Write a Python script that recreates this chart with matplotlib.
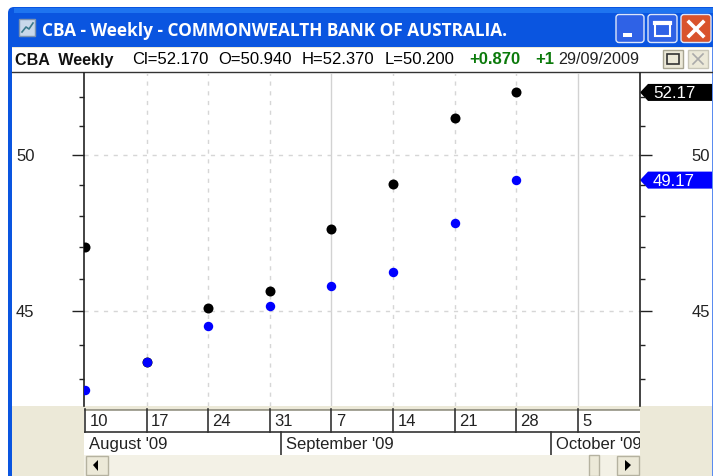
import matplotlib
matplotlib.use('Agg')
import matplotlib.pyplot as plt
from matplotlib.patches import Rectangle, FancyBboxPatch, Polygon
from matplotlib.ticker import FixedLocator, FixedFormatter, NullFormatter

# weekly points
weeks = ['10', '17', '24', '31', '7', '14', '21', '28', '5']
month_names = ["August '09", "September '09", "October '09"]
month_starts = [-0.02, 3.19, 7.57]
close_vals = [47.00, 43.49, 45.11, 45.62, 47.58, 49.05, 51.28, 52.17]
blue_vals = [42.67, 43.49, 44.56, 45.17, 45.78, 46.21, 47.77, 49.17]
major_ticks = [45, 50]
minor_ticks = [43, 44, 46, 47, 48, 49, 51, 52]
solid_weeks = [4, 8]
dashed_weeks = [1, 2, 3, 5, 6, 7]
info_parts = [(132, 'Cl=52.170'), (218, 'O=50.940'), (302, 'H=52.370'), (385, 'L=50.200')]

W, H = 713, 477
plt.rcParams['font.family'] = 'Liberation Sans'

fig = plt.figure(figsize=(W / 100, H / 100), dpi=100)


def box(x0, y0, x1, y1):
    # pixel box (top-left origin) to figure fractions
    return [x0 / W, 1 - y1 / H, (x1 - x0) / W, (y1 - y0) / H]


# window chrome, in pixels
bg = fig.add_axes([0, 0, 1, 1])
bg.set_xlim(0, W)
bg.set_ylim(H, 0)
bg.axis('off')
bg.add_patch(FancyBboxPatch((8, 8), 730, 500, boxstyle='round,pad=0,rounding_size=6', fc='#0A55E0', ec='none'))
bg.add_patch(Rectangle((14, 9), 699, 5, fc='#1E74F0', ec='none'))
bg.add_patch(Rectangle((12, 48), 701, 429, fc='#ECE9D8', ec='none'))
bg.add_patch(Rectangle((12, 49), 701, 24, fc='white', ec='none'))
bg.plot([12, 713], [72.5, 72.5], color='#333333', lw=1)
bg.add_patch(Rectangle((12, 73), 700, 334, fc='white', ec='none'))
bg.add_patch(Rectangle((712, 48), 1, 429, fc='#5A8CF0', ec='none'))

# title icon and title
bg.add_patch(Rectangle((19, 20), 16, 17, fc='#C9D8EA', ec='#7C93B0', lw=1))
bg.plot([22, 26, 29, 33], [33, 28, 30, 24], color='#3C7A8C', lw=1.2)
bg.text(42, 31, 'CBA - Weekly - COMMONWEALTH BANK OF AUSTRALIA.', color='white', fontsize=12.4,
        fontweight='bold', va='center', family='Open Sans', stretch='condensed')

# window buttons
for x0, wd, col in [(616, 28, '#2F62E6'), (648, 29, '#2F62E6'), (681, 30, '#D9532C')]:
    bg.add_patch(FancyBboxPatch((x0, 15.5), wd, 28, boxstyle='round,pad=0,rounding_size=3',
                                fc=col, ec='#DCE6FA', lw=1))
bg.add_patch(Rectangle((623, 34), 9, 4, fc='white', ec='none'))
bg.add_patch(Rectangle((655, 23), 15, 14, fc='none', ec='white', lw=1.5))
bg.plot([655, 670], [24, 24], color='white', lw=3)
bg.plot([689, 703], [23, 37], color='white', lw=2.6)
bg.plot([689, 703], [37, 23], color='white', lw=2.6)

# info line
y_info = 60
bg.text(15, y_info, 'CBA  Weekly', fontsize=11.6, fontweight='bold', va='center', color='#111111')
for x0, part in info_parts:
    bg.text(x0, y_info, part, fontsize=12, va='center', color='black')
bg.text(469, y_info, '+0.870', fontsize=12, va='center', color='#0B7A0B', fontweight='bold')
bg.text(535, y_info, '+1', fontsize=12, va='center', color='#0B7A0B', fontweight='bold')
bg.text(558, y_info, '29/09/2009', fontsize=11.6, va='center', color='#222222')
bg.add_patch(Rectangle((663, 51), 20, 18, fc='#ECE9D8', ec='#A8A592', lw=1))
bg.add_patch(Rectangle((688, 51), 20, 18, fc='#ECE9D8', ec='#C8C6B8', lw=1))
bg.add_patch(Rectangle((667, 55), 12, 10, fc='none', ec='#333333', lw=1.2))
bg.plot([693, 703], [55, 65], color='#AAAAAA', lw=1.2)
bg.plot([693, 703], [65, 55], color='#AAAAAA', lw=1.2)

# price panel
x_lim = (-0.016, 9.01)
ax = fig.add_axes(box(84, 73.7, 640, 406.7))
ax.patch.set_alpha(0)
ax.set_yscale('log')
ax.set_xlim(*x_lim)
ax.set_ylim(42.22, 52.87)
for s in ['top', 'bottom']:
    ax.spines[s].set_visible(False)
for s in ['left', 'right']:
    ax.spines[s].set_color('#222222')
    ax.spines[s].set_linewidth(1.2)

for i in dashed_weeks:
    ax.axvline(i, color='#D6D6D6', lw=1, ls=(0, (3, 4)), zorder=1)
for i in solid_weeks:
    ax.axvline(i, color='#D2D2D2', lw=1, zorder=1)
for v in major_ticks:
    ax.axhline(v, color='#D6D6D6', lw=1, ls=(0, (3, 4)), zorder=1)

ax.set_xticks([])
ax.yaxis.set_major_locator(FixedLocator(major_ticks))
ax.yaxis.set_major_formatter(FixedFormatter([str(v) for v in major_ticks]))
ax.yaxis.set_minor_locator(FixedLocator(minor_ticks))
ax.yaxis.set_minor_formatter(NullFormatter())
ax.tick_params(axis='y', which='major', length=8.6, width=1, color='#222222', labelsize=12,
               labelcolor='#222222', left=True, right=True, labelleft=True, labelright=False, pad=27)
ax.tick_params(axis='y', which='minor', length=3.6, width=1, color='#222222', left=True, right=True)
for lab in ax.get_yticklabels():
    lab.set_va('center')

ax.plot(range(len(close_vals)), close_vals, 'o', color='black', ms=7.2, mew=0, zorder=3)
ax.plot(range(len(blue_vals)), blue_vals, 'o', color='#0000FF', ms=6.8, mew=0, zorder=4)

# right hand labels
for v in major_ticks:
    ax.text(1 + 70 / 556, v, str(v), transform=ax.get_yaxis_transform(), ha='right', va='center',
            fontsize=12, color='#222222', clip_on=False)


# price flags on the right axis
def flag(val, col):
    yp = H - ax.transData.transform((0, val))[1]
    bg.add_patch(Polygon([(640, yp), (648, yp - 8.5), (712, yp - 8.5), (712, yp + 8.5), (648, yp + 8.5)],
                         fc=col, ec='none'))
    bg.text(653, yp, f'{val:.2f}', color='white', fontsize=12.2, va='center', zorder=5)


flag(close_vals[-1], 'black')
flag(blue_vals[-1], '#0000FF')

# date strip
bg.add_patch(Rectangle((84, 410), 556, 46, fc='white', ec='none'))
strip = fig.add_axes(box(84, 410, 640, 456))
strip.set_xlim(*x_lim)
strip.set_ylim(2, 0)
strip.set_xticks([])
strip.set_yticks([])
strip.patch.set_alpha(0)
for s in strip.spines.values():
    s.set_visible(False)
strip.axhline(0.0, color='#9C9A8C', lw=2)
strip.axhline(1.0, color='#333333', lw=1.2)
for i, lab in enumerate(weeks):
    strip.plot([i, i], [0, 1.0], color='#333333', lw=1.2, clip_on=False)
    strip.text(i + 0.07, 0.5, lab, fontsize=12, va='center', color='#222222')
for m, st in zip(month_names, month_starts):
    if st > 0:
        strip.plot([st, st], [1.0, 2], color='#333333', lw=1.2)
    strip.text(max(st, 0) + 0.07, 1.48, m, fontsize=12, va='center', color='#222222', clip_on=True)

# scrollbar
bg.add_patch(Rectangle((84, 456), 556, 21, fc='#F3F1E6', ec='none'))
bg.add_patch(Rectangle((86, 457), 22, 19, fc='#ECE9D8', ec='#B5B2A0', lw=1))
bg.add_patch(Polygon([(93, 466), (98, 461), (98, 472)], fc='black'))
bg.add_patch(Rectangle((589, 456), 10, 21, fc='#ECE9D8', ec='#B5B2A0', lw=1))
bg.add_patch(Rectangle((617, 457), 22, 19, fc='#ECE9D8', ec='#B5B2A0', lw=1))
bg.add_patch(Polygon([(631, 466), (625, 461), (625, 472)], fc='black'))

fig.savefig('out.png', dpi=100)
